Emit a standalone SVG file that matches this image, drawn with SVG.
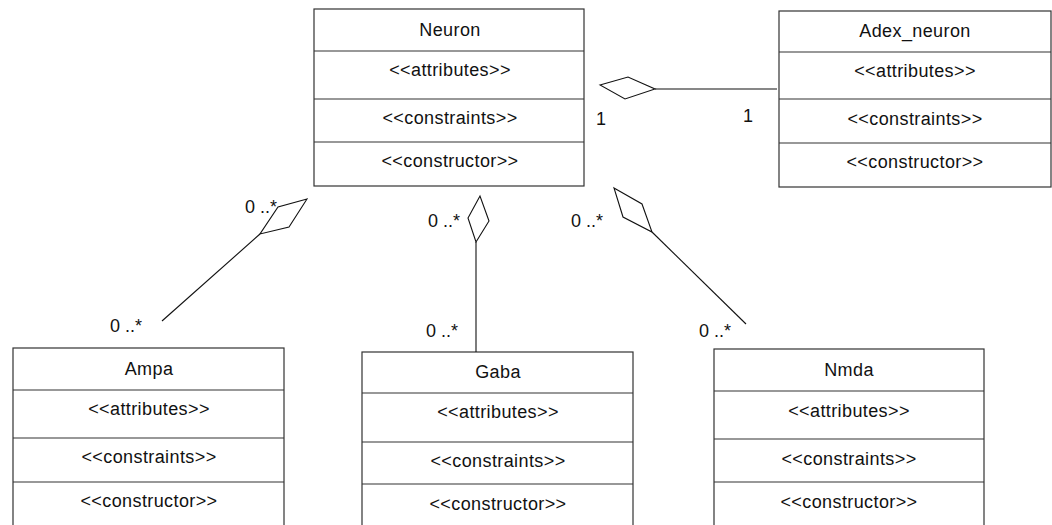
<svg xmlns="http://www.w3.org/2000/svg" width="1052" height="525" viewBox="0 0 1052 525">
  <style>
    .box { fill: #ffffff; stroke: #333333; stroke-width: 1.2; }
    .sep { stroke: #333333; stroke-width: 1.2; }
    .lbl { font-family: "Liberation Sans", Arial, sans-serif; font-size: 18px; letter-spacing: 0.4px; fill: #111111; text-anchor: middle; }
    .mult { font-family: "Liberation Sans", Arial, sans-serif; font-size: 18px; fill: #111111; }
    .link { fill: none; stroke: #111111; stroke-width: 1.1; }
    .agg { fill: #ffffff; stroke: #111111; stroke-width: 1.1; stroke-linejoin: miter; }
  </style>
  <rect width="1052" height="525" fill="#ffffff"/>

  <!-- class: Neuron -->
  <g id="neuron">
    <rect class="box" x="314" y="9" width="270" height="177"/>
    <line class="sep" x1="314" y1="51" x2="584" y2="51"/>
    <line class="sep" x1="314" y1="99" x2="584" y2="99"/>
    <line class="sep" x1="314" y1="142" x2="584" y2="142"/>
    <text class="lbl" x="450" y="36">Neuron</text>
    <text class="lbl" x="450" y="76">&lt;&lt;attributes&gt;&gt;</text>
    <text class="lbl" x="450" y="124">&lt;&lt;constraints&gt;&gt;</text>
    <text class="lbl" x="450" y="167">&lt;&lt;constructor&gt;&gt;</text>
  </g>

  <!-- class: Adex_neuron -->
  <g id="adex_neuron">
    <rect class="box" x="779" y="11" width="272" height="176"/>
    <line class="sep" x1="779" y1="52" x2="1051" y2="52"/>
    <line class="sep" x1="779" y1="99" x2="1051" y2="99"/>
    <line class="sep" x1="779" y1="143" x2="1051" y2="143"/>
    <text class="lbl" x="915" y="37">Adex_neuron</text>
    <text class="lbl" x="915" y="77">&lt;&lt;attributes&gt;&gt;</text>
    <text class="lbl" x="915" y="125">&lt;&lt;constraints&gt;&gt;</text>
    <text class="lbl" x="915" y="168">&lt;&lt;constructor&gt;&gt;</text>
  </g>

  <!-- class: Ampa -->
  <g id="ampa">
    <rect class="box" x="13" y="348" width="271" height="190"/>
    <line class="sep" x1="13" y1="390" x2="284" y2="390"/>
    <line class="sep" x1="13" y1="438" x2="284" y2="438"/>
    <line class="sep" x1="13" y1="482" x2="284" y2="482"/>
    <text class="lbl" x="149" y="375">Ampa</text>
    <text class="lbl" x="149" y="415">&lt;&lt;attributes&gt;&gt;</text>
    <text class="lbl" x="149" y="463">&lt;&lt;constraints&gt;&gt;</text>
    <text class="lbl" x="149" y="507">&lt;&lt;constructor&gt;&gt;</text>
  </g>

  <!-- class: Gaba -->
  <g id="gaba">
    <rect class="box" x="362" y="352" width="271" height="190"/>
    <line class="sep" x1="362" y1="393" x2="633" y2="393"/>
    <line class="sep" x1="362" y1="442" x2="633" y2="442"/>
    <line class="sep" x1="362" y1="484" x2="633" y2="484"/>
    <text class="lbl" x="498" y="378">Gaba</text>
    <text class="lbl" x="498" y="418">&lt;&lt;attributes&gt;&gt;</text>
    <text class="lbl" x="498" y="467">&lt;&lt;constraints&gt;&gt;</text>
    <text class="lbl" x="498" y="510">&lt;&lt;constructor&gt;&gt;</text>
  </g>

  <!-- class: Nmda -->
  <g id="nmda">
    <rect class="box" x="714" y="349" width="270" height="190"/>
    <line class="sep" x1="714" y1="391" x2="984" y2="391"/>
    <line class="sep" x1="714" y1="439" x2="984" y2="439"/>
    <line class="sep" x1="714" y1="482" x2="984" y2="482"/>
    <text class="lbl" x="849" y="376">Nmda</text>
    <text class="lbl" x="849" y="417">&lt;&lt;attributes&gt;&gt;</text>
    <text class="lbl" x="849" y="465">&lt;&lt;constraints&gt;&gt;</text>
    <text class="lbl" x="849" y="508">&lt;&lt;constructor&gt;&gt;</text>
  </g>

  <!-- aggregation associations (hollow diamond at the whole end) -->
  <g id="connectors">
    <line class="link" x1="655" y1="89" x2="777" y2="89"/>
    <polygon class="agg" points="600,85 628,77 655,89 625,99"/>
    <text class="mult" x="596" y="125">1</text>
    <text class="mult" x="743" y="122">1</text>

    <line class="link" x1="260" y1="234" x2="162" y2="321"/>
    <polygon class="agg" points="307,199 278,207 260,234 289,227"/>
    <text class="mult" x="245" y="213">0 ..*</text>
    <text class="mult" x="110" y="332">0 ..*</text>

    <line class="link" x1="476" y1="242" x2="476" y2="352"/>
    <polygon class="agg" points="480,196 468,218 476,242 489,221"/>
    <text class="mult" x="428" y="227">0 ..*</text>
    <text class="mult" x="426" y="337">0 ..*</text>

    <line class="link" x1="652" y1="232" x2="746" y2="324"/>
    <polygon class="agg" points="614,188 642,204 652,232 623,217"/>
    <text class="mult" x="571" y="227">0 ..*</text>
    <text class="mult" x="699" y="337">0 ..*</text>
  </g>
</svg>
